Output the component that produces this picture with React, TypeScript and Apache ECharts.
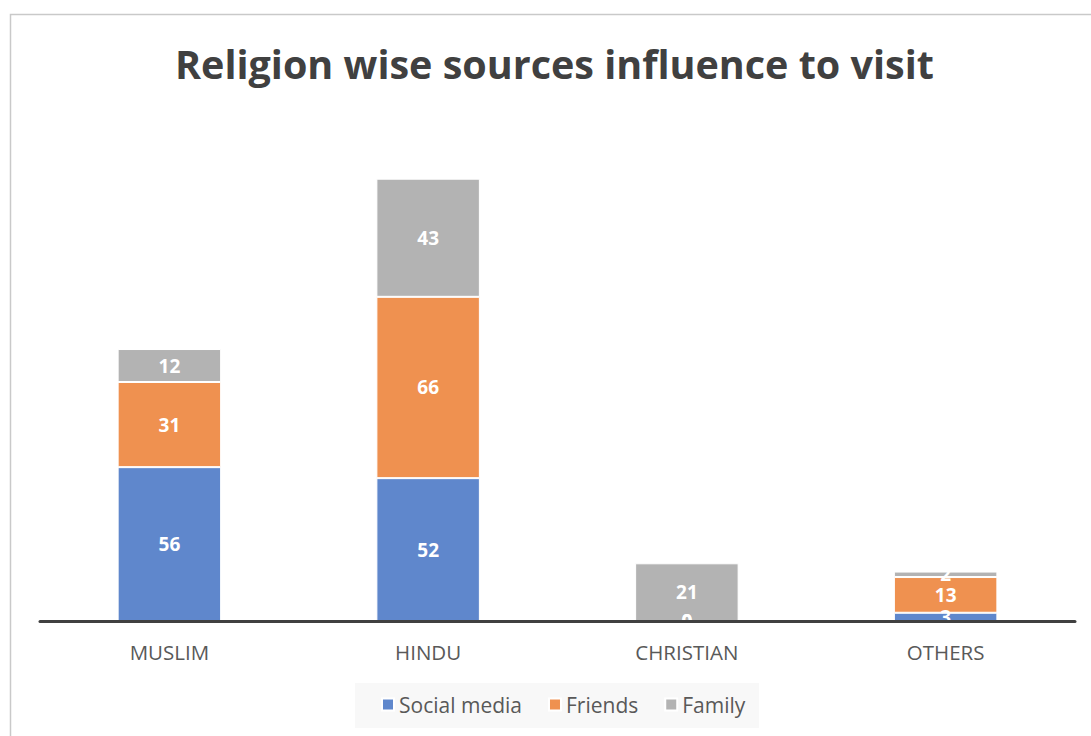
import React, { useEffect, useRef } from "react";
import * as echarts from "echarts";

const categories = ["MUSLIM", "HINDU", "CHRISTIAN", "OTHERS"];
const socialMedia = [56, 52, 0, 3];
const friends = [31, 66, 0, 13];
const family = [12, 43, 21, 2];
const seriesNames = ["Social media", "Friends", "Family"];
const colors = ["#5f87cc", "#ef9150", "#b3b3b3"];

export default function App() {
  const ref = useRef<HTMLDivElement>(null);
  useEffect(() => {
    if (!ref.current) return;
    const chart = echarts.init(ref.current, undefined, { renderer: "svg" });
    const font = "'Open Sans', 'Noto Sans', sans-serif";
    const mk = (name: string, data: number[], color: string) => ({
      name,
      type: "bar",
      stack: "total",
      data,
      barWidth: "40%",
      itemStyle: { color, borderColor: "#ffffff", borderWidth: 1 },
      label: {
        show: true,
        position: "inside",
        color: "#ffffff",
        fontWeight: "bold",
        fontSize: 19,
        fontFamily: font,
      },
    });
    chart.setOption({
      animation: false,
      backgroundColor: "#ffffff",
      title: {
        text: "Religion wise sources influence to visit",
        left: 175,
        top: 44,
        padding: 0,
        textStyle: {
          fontSize: 39.5,
          fontWeight: "bold",
          color: "#404040",
          fontFamily: font,
        },
      },
      graphic: [
        {
          type: "rect",
          shape: { x: 10.5, y: 14.5, width: 1100, height: 800 },
          style: { fill: "none", stroke: "#c9c9c9", lineWidth: 1.5 },
          z: -1,
        },
        {
          type: "rect",
          shape: { x: 355, y: 683, width: 404, height: 45 },
          style: { fill: "#f8f8f8" },
          z: -1,
        },
      ],
      legend: {
        top: 694,
        left: 381,
        padding: 0,
        itemWidth: 12,
        itemHeight: 12,
        itemGap: 26,
        icon: "rect",
        textStyle: { fontSize: 21, color: "#595959", fontFamily: font },
        data: seriesNames,
      },
      grid: { left: 40, right: 16, top: 126.5, bottom: 115 },
      xAxis: {
        type: "category",
        data: categories,
        z: 5,
        axisLine: { lineStyle: { color: "#404040", width: 3 } },
        axisTick: { show: false },
        axisLabel: {
          fontSize: 20.5,
          color: "#595959",
          margin: 20,
          fontFamily: font,
        },
      },
      yAxis: {
        type: "value",
        min: 0,
        max: 180,
        show: false,
        splitLine: { show: false },
      },
      series: [
        mk(seriesNames[0], socialMedia, colors[0]),
        mk(seriesNames[1], friends, colors[1]),
        mk(seriesNames[2], family, colors[2]),
      ],
    });
    return () => chart.dispose();
  }, []);
  return (
    <div
      ref={ref}
      style={{ position: "fixed", left: 0, top: 0, width: 1091, height: 736 }}
    />
  );
}
